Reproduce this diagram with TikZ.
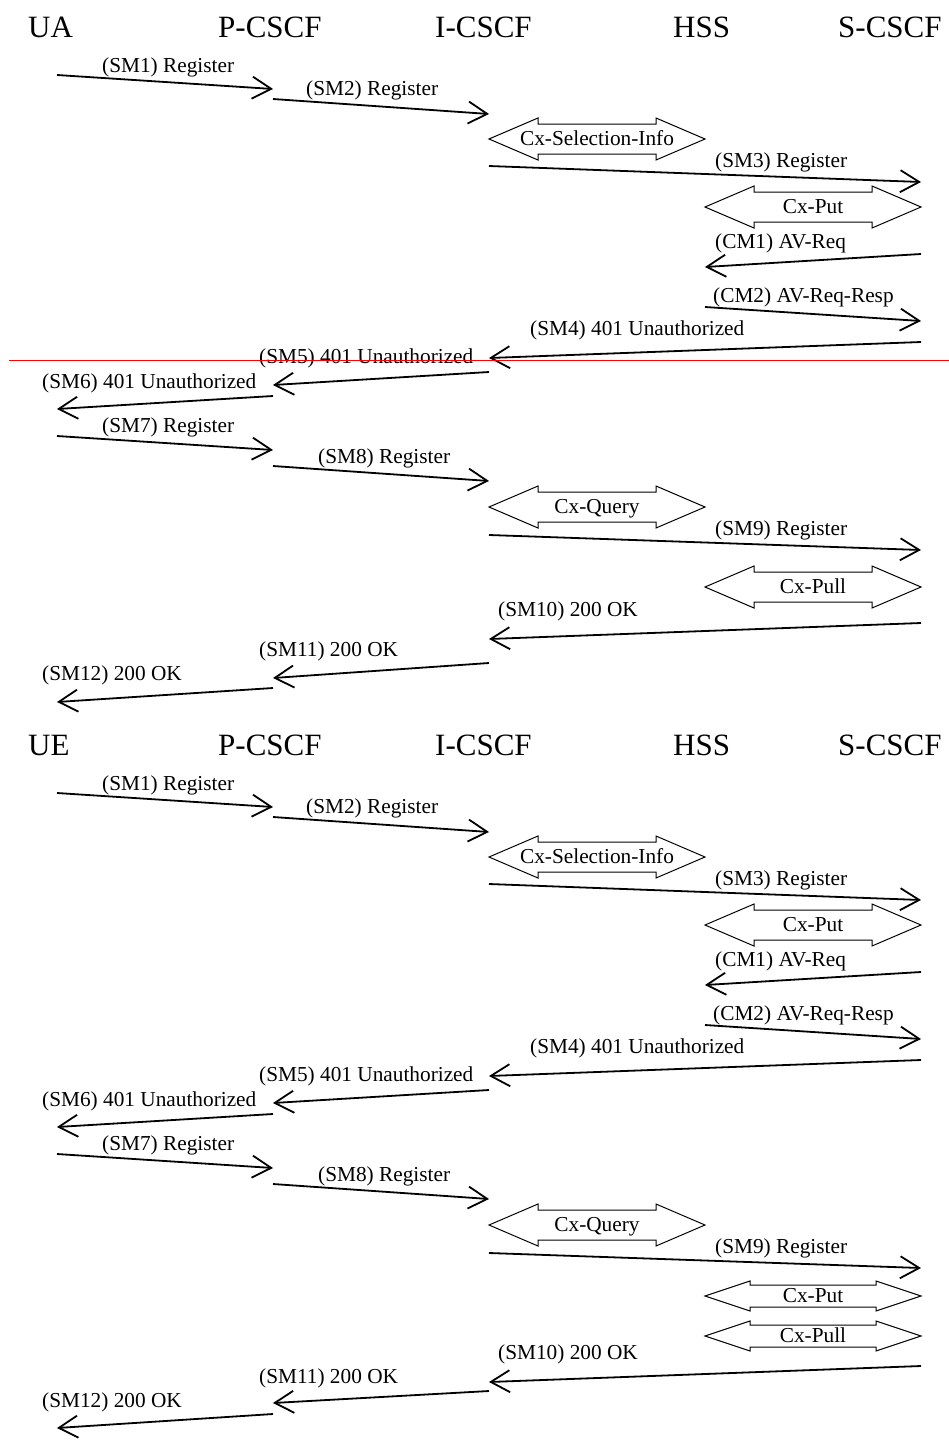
\documentclass[tikz,border=0pt]{standalone}
\usepackage{fontspec}
\setmainfont{Liberation Serif}
\usetikzlibrary{arrows.meta,calc}

\tikzset{
  head/.style={anchor=base west, inner sep=0pt, font=\fontsize{31}{31}\selectfont},
  lbl/.style={anchor=base west, inner sep=0pt, font=\fontsize{21.3}{21.3}\selectfont},
  cxtext/.style={anchor=base, inner sep=0pt, font=\fontsize{21.3}{21.3}\selectfont},
  msg/.style={line width=1.8pt, -{Straight Barb[length=19pt,width=22pt]}},
  cx/.style={line width=1pt, line join=miter},
  divider/.style={red, line width=1pt}
}

% a message: name, start x/y, end x/y, label x/baseline, label text
\newcommand\MsgArrow[8]{%
  \coordinate (#1s) at (#2,#3);
  \coordinate (#1e) at (#4,#5);
  \draw[msg] (#1s) -- (#1e);
  \node[lbl] (#1l) at (#6,#7) {#8};}

% a Cx double arrow: name, centre x/y, shaft half height, head half height, head length, text
\newcommand\CxArrow[7]{%
  \begin{scope}[shift={(#2,#3)}]
    \draw[cx] (-108,0) -- (-108+#6,-#5) -- (-108+#6,-#4) -- (108-#6,-#4)
      -- (108-#6,-#5) -- (108,0) -- (108-#6,#5) -- (108-#6,#4)
      -- (-108+#6,#4) -- (-108+#6,#5) -- cycle;
    \node[cxtext] (#1) at (0,6.5) {#7};
  \end{scope}}

\begin{document}
\begin{tikzpicture}[x=1pt,y=-1pt]
\useasboundingbox (0,0) rectangle (949,1441);

% ---------------- first flow ----------------
\node[head] (ua)  at (28,37)  {UA};
\node[head] (pc1) at (218,37) {P-CSCF};
\node[head] (ic1) at (435,37) {I-CSCF};
\node[head] (hs1) at (673,37) {HSS};
\node[head] (sc1) at (838,37) {S-CSCF};

\MsgArrow{a1}{57}{75}{273}{89}{102}{72}{(SM1) Register}
\MsgArrow{a2}{273}{99}{489}{114}{306}{95}{(SM2) Register}
\CxArrow{cxa1}{597}{139}{15}{21}{49}{Cx-Selection-Info}
\MsgArrow{a3}{489}{166}{921}{182}{715}{167}{(SM3) Register}
\CxArrow{cxa2}{813}{207}{15}{21}{49}{Cx-Put}
\MsgArrow{c1}{921}{254}{705}{267}{715}{248}{(CM1) AV-Req}
\MsgArrow{c2}{705}{307}{921}{321}{713}{302}{(CM2) AV-Req-Resp}
\MsgArrow{a4}{921}{342}{489}{358}{530}{335}{(SM4) 401 Unauthorized}
\MsgArrow{a5}{489}{372}{273}{385}{259}{363}{(SM5) 401 Unauthorized}
\MsgArrow{a6}{273}{396}{57}{409}{42}{388}{(SM6) 401 Unauthorized}
\MsgArrow{a7}{57}{436}{273}{450}{102}{432}{(SM7) Register}
\MsgArrow{a8}{273}{466}{489}{481}{318}{463}{(SM8) Register}
\CxArrow{cxa3}{597}{507}{15}{21}{49}{Cx-Query}
\MsgArrow{a9}{489}{535}{921}{550}{715}{535}{(SM9) Register}
\CxArrow{cxa4}{813}{587}{15}{21}{49}{Cx-Pull}
\MsgArrow{a10}{921}{623}{489}{639}{498}{616}{(SM10) 200 OK}
\MsgArrow{a11}{489}{663}{273}{678}{259}{656}{(SM11) 200 OK}
\MsgArrow{a12}{273}{688}{57}{702}{42}{680}{(SM12) 200 OK}

\coordinate (rl) at (9,360);
\coordinate (rr) at (949,360);
\draw[divider] (rl) -- (rr);

% ---------------- second flow ----------------
\node[head] (ue)  at (28,755)  {UE};
\node[head] (pc2) at (218,755) {P-CSCF};
\node[head] (ic2) at (435,755) {I-CSCF};
\node[head] (hs2) at (673,755) {HSS};
\node[head] (sc2) at (838,755) {S-CSCF};

\MsgArrow{b1}{57}{793}{273}{807}{102}{790}{(SM1) Register}
\MsgArrow{b2}{273}{817}{489}{832}{306}{813}{(SM2) Register}
\CxArrow{cxb1}{597}{857}{15}{21}{49}{Cx-Selection-Info}
\MsgArrow{b3}{489}{884}{921}{900}{715}{885}{(SM3) Register}
\CxArrow{cxb2}{813}{925}{15}{21}{49}{Cx-Put}
\MsgArrow{d1}{921}{972}{705}{985}{715}{966}{(CM1) AV-Req}
\MsgArrow{d2}{705}{1025}{921}{1039}{713}{1020}{(CM2) AV-Req-Resp}
\MsgArrow{b4}{921}{1060}{489}{1076}{530}{1053}{(SM4) 401 Unauthorized}
\MsgArrow{b5}{489}{1090}{273}{1103}{259}{1081}{(SM5) 401 Unauthorized}
\MsgArrow{b6}{273}{1114}{57}{1127}{42}{1106}{(SM6) 401 Unauthorized}
\MsgArrow{b7}{57}{1154}{273}{1168}{102}{1150}{(SM7) Register}
\MsgArrow{b8}{273}{1184}{489}{1199}{318}{1181}{(SM8) Register}
\CxArrow{cxb3}{597}{1225}{15}{21}{49}{Cx-Query}
\MsgArrow{b9}{489}{1253}{921}{1268}{715}{1253}{(SM9) Register}
\CxArrow{cxb4}{813}{1296}{11}{15}{45}{Cx-Put}
\CxArrow{cxb5}{813}{1336}{11}{15}{45}{Cx-Pull}
\MsgArrow{b10}{921}{1366}{489}{1382}{498}{1359}{(SM10) 200 OK}
\MsgArrow{b11}{489}{1391}{273}{1403}{259}{1383}{(SM11) 200 OK}
\MsgArrow{b12}{273}{1414}{57}{1428}{42}{1407}{(SM12) 200 OK}
\end{tikzpicture}
\end{document}
